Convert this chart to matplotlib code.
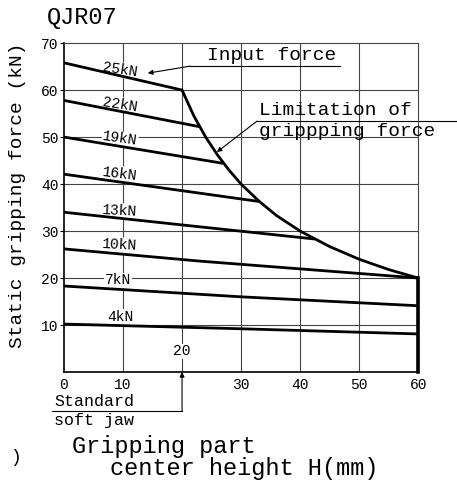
"""QJR07 static gripping force vs. gripping part center height."""

import matplotlib

matplotlib.use("Agg")
import matplotlib.pyplot as plt

# input force curves: (H mm, force kN)
force_labels = ["25kN", "22kN", "19kN", "16kN", "13kN", "10kN", "7kN", "4kN"]
curve_h = [
    [0, 20],
    [0, 23],
    [0, 27],
    [0, 33],
    [0, 20, 42.5],
    [0, 23, 60],
    [0, 30, 60],
    [0, 30, 60],
]
curve_f = [
    [65.8, 60.0],
    [57.8, 52.2],
    [50.0, 44.4],
    [42.1, 36.3],
    [34.0, 31.3, 28.3],
    [26.2, 23.6, 20.0],
    [18.3, 16.0, 14.1],
    [10.2, 9.2, 8.1],
]
label_x = [9.5, 9.5, 9.5, 9.5, 9.5, 9.5, 9.2, 9.5]
label_y = [64.3, 56.9, 49.6, 42.2, 34.3, 27.0, 19.5, 11.7]
label_rot = [-9, -9, -8, -7, -3, -3, 0, 0]

# limitation of gripping force
limit_h = [20, 22, 24, 26, 28, 30, 33, 36, 40, 45, 50, 55, 60]
limit_f = [60, 54.5, 50, 46.2, 42.9, 40, 36.4, 33.3, 30, 26.7, 24, 21.8, 20]

x_ticks = [0, 10, 30, 40, 50, 60]
y_ticks = [10, 20, 30, 40, 50, 60, 70]

FONT = "Liberation Mono"
plt.rcParams["font.family"] = [FONT, "DejaVu Sans Mono"]

fig = plt.figure(figsize=(4.57, 4.88), dpi=100)
ax = fig.add_axes([0.140, 0.2377, 0.775, 0.674])
ax.set_xlim(0, 60)
ax.set_ylim(0, 70)

grid_kw = dict(color="#444444", lw=0.8, zorder=1)
for gx in [10, 20, 30, 40, 50]:
    ax.axvline(gx, **grid_kw)
for gy in [10, 20, 30, 40, 50, 60]:
    ax.axhline(gy, **grid_kw)

for s in ["top", "right"]:
    ax.spines[s].set_color("#444444")
    ax.spines[s].set_linewidth(0.8)
for s in ["left", "bottom"]:
    ax.spines[s].set_color("black")
    ax.spines[s].set_linewidth(1.2)

for hs, fs in zip(curve_h, curve_f):
    ax.plot(hs, fs, color="black", lw=2.0, solid_capstyle="butt", zorder=3)
ax.plot(limit_h, limit_f, color="black", lw=2.0, zorder=3)
ax.plot([60, 60], [0, 20], color="black", lw=2.6, zorder=3, clip_on=False)

# labels sit between grid and curves: white box hides grid only
for lab, lx, ly, rot in zip(force_labels, label_x, label_y, label_rot):
    ax.text(lx, ly, lab, fontsize=10.5, ha="center", va="center", rotation=rot,
            zorder=2, bbox=dict(facecolor="white", edgecolor="none", pad=0.5))

ax.set_xticks(x_ticks)
ax.set_yticks(y_ticks)
ax.tick_params(axis="x", length=0, pad=4, labelsize=10.5)
ax.tick_params(axis="y", length=3, width=0.8, pad=1, labelsize=10.5)

# inner "20" and standard soft jaw marker
ax.text(20, 4.4, "20", fontsize=10.5, ha="center", va="center", zorder=4,
        bbox=dict(facecolor="white", edgecolor="none", pad=0.5))
ax.annotate("", xy=(20, 0), xytext=(20, -8.3), xycoords="data",
            arrowprops=dict(arrowstyle="-|>", color="black", lw=0.8,
                            mutation_scale=7, shrinkA=0, shrinkB=0),
            annotation_clip=False)
ax.plot([-2, 20], [-8.3, -8.3], color="black", lw=0.8, clip_on=False)
ax.text(-1.7, -7.9, "Standard", fontsize=12, ha="left", va="bottom")
ax.text(-1.7, -8.7, "soft jaw", fontsize=12, ha="left", va="top")

# input force note
ax.plot([21.4, 46.8], [65.1, 65.1], color="black", lw=0.8)
ax.annotate("", xy=(14.2, 63.6), xytext=(21.4, 65.1),
            arrowprops=dict(arrowstyle="-|>", color="black", lw=0.8,
                            mutation_scale=7, shrinkA=0, shrinkB=0))
ax.text(35.2, 65.5, "Input force", fontsize=14, ha="center", va="bottom")

# limitation note
ax.plot([32.7, 66.5], [53.4, 53.4], color="black", lw=0.8, clip_on=False)
ax.annotate("", xy=(25.9, 46.8), xytext=(32.7, 53.4),
            arrowprops=dict(arrowstyle="-|>", color="black", lw=0.8,
                            mutation_scale=7, shrinkA=0, shrinkB=0))
ax.text(33.0, 53.9, "Limitation of", fontsize=14, ha="left", va="bottom")
ax.text(33.0, 52.9, "grippping force", fontsize=14, ha="left", va="top")

fig.text(0.103, 0.965, "QJR07", fontsize=17, ha="left", va="center")
fig.text(0.039, 0.60, "Static gripping force (kN)", fontsize=14,
         rotation=90, ha="center", va="center")
fig.text(0.157, 0.085, "Gripping part", fontsize=17, ha="left", va="center")
fig.text(0.241, 0.039, "center height H(mm)", fontsize=17, ha="left", va="center")
fig.text(0.022, 0.063, ")", fontsize=13, ha="left", va="center")

fig.savefig("out.png", dpi=100)
